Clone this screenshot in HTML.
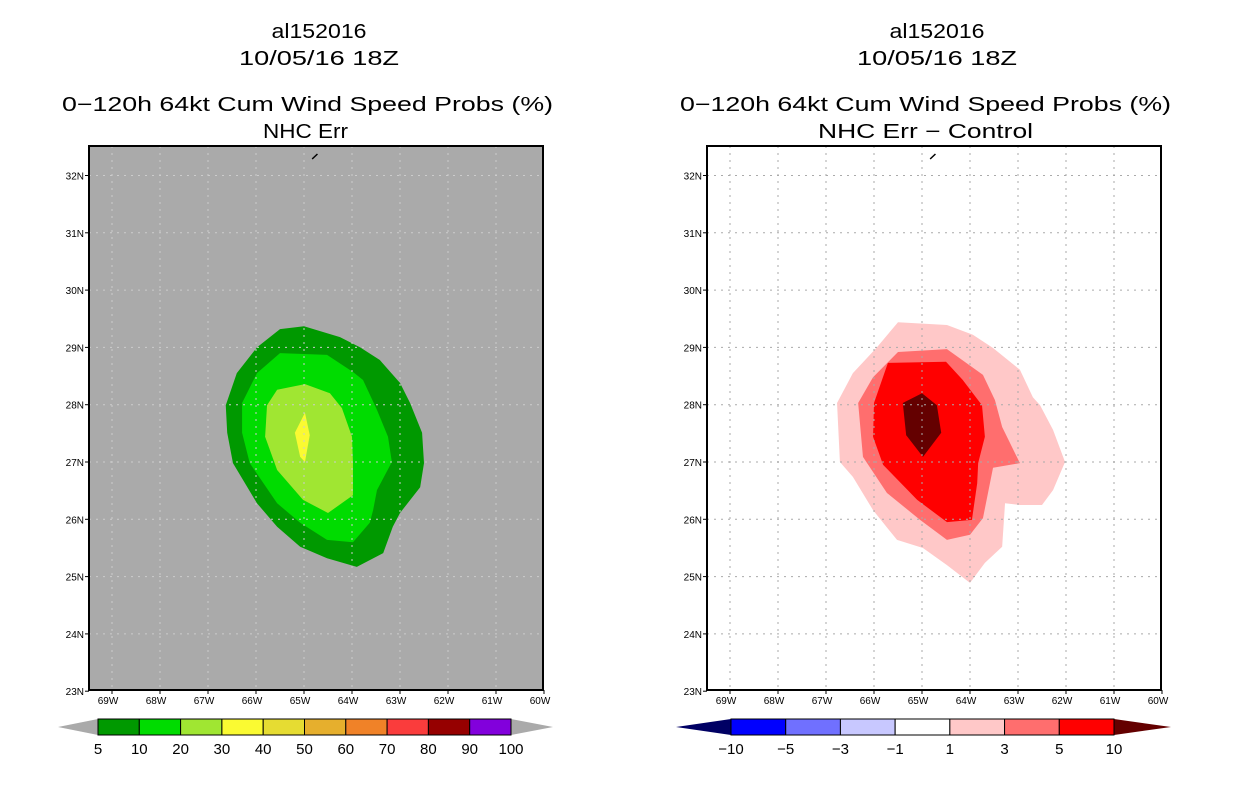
<!DOCTYPE html>
<html><head><meta charset="utf-8"><style>
body{margin:0;background:#fff;}
svg text{font-family:"Liberation Sans",sans-serif;fill:#000;}
</style></head><body>
<svg id="svg" width="1236" height="800" viewBox="0 0 1236 800" xmlns="http://www.w3.org/2000/svg">
<g id="root"></g>
</svg>
<script>
// ---- data ----
const lonTicks = [-69,-68,-67,-66,-65,-64,-63,-62,-61,-60];
const latTicks = [23,24,25,26,27,28,29,30,31,32];
const lonTickLabels = ["69W","68W","67W","66W","65W","64W","63W","62W","61W","60W"];
const latTickLabels = ["23N","24N","25N","26N","27N","28N","29N","30N","31N","32N"];
const leftLevels = ["5","10","20","30","40","50","60","70","80","90","100"];
const leftColors = ["#009900","#00dc00","#a0e632","#fafa32","#e6dc32","#e6af2d","#f08228","#fa3c3c","#960000","#8200dc"];
const rightLevels = ["-10","-5","-3","-1","1","3","5","10"];
const rightColors = ["#0000ff","#7070ff","#c8c8ff","#ffffff","#ffc8c8","#ff6e6e","#ff0000"];
// contour polygons (lon, lat)
const probC5 = [[-65.5,29.32],[-65.0,29.37],[-64.25,29.18],[-63.83,29.0],[-63.42,28.78],[-63.0,28.38],[-62.79,28.03],[-62.54,27.51],[-62.5,26.98],[-62.58,26.56],[-63.0,26.11],[-63.15,25.87],[-63.35,25.41],[-63.9,25.17],[-64.52,25.32],[-65.08,25.52],[-65.56,25.87],[-65.98,26.28],[-66.48,26.98],[-66.6,27.51],[-66.63,27.99],[-66.4,28.55],[-65.98,29.0]];
const probC10 = [[-65.5,28.9],[-64.52,28.87],[-63.98,28.57],[-63.77,28.43],[-63.48,27.91],[-63.25,27.44],[-63.17,27.0],[-63.48,26.51],[-63.56,26.16],[-63.63,25.94],[-63.98,25.6],[-64.52,25.64],[-65.08,25.94],[-65.56,26.28],[-66.13,26.98],[-66.29,27.51],[-66.29,28.03],[-65.98,28.55]];
const probC20 = [[-65.56,28.26],[-64.98,28.36],[-64.46,28.2],[-64.21,27.94],[-64.0,27.44],[-63.98,27.0],[-63.98,26.42],[-64.5,26.11],[-65.02,26.34],[-65.56,26.86],[-65.81,27.44],[-65.77,27.99]];
const probC30 = [[-64.98,27.86],[-64.88,27.47],[-64.98,27.0],[-65.08,27.09],[-65.19,27.51]];
const diffC1 = [[-65.5,29.44],[-64.48,29.39],[-63.94,29.22],[-63.52,28.99],[-62.96,28.61],[-62.69,28.13],[-62.54,27.99],[-62.27,27.56],[-62.02,27.0],[-62.27,26.51],[-62.5,26.25],[-62.96,26.25],[-63.27,26.28],[-63.33,25.52],[-63.69,25.24],[-64.0,24.89],[-64.48,25.2],[-64.98,25.5],[-65.52,25.64],[-66.02,26.16],[-66.44,26.74],[-66.71,27.0],[-66.77,28.03],[-66.44,28.55],[-65.94,29.0]];
const diffC3 = [[-65.5,28.92],[-64.48,28.97],[-63.73,28.52],[-63.48,28.08],[-63.33,27.61],[-62.96,26.98],[-63.52,26.9],[-63.73,26.02],[-64.0,25.73],[-64.48,25.64],[-65.04,25.99],[-65.73,26.46],[-66.23,27.09],[-66.33,28.03],[-66.02,28.48]];
const diffC5 = [[-65.71,28.73],[-64.5,28.75],[-64.15,28.43],[-63.75,27.99],[-63.69,27.44],[-63.83,26.98],[-63.85,26.63],[-63.96,25.99],[-64.48,25.95],[-65.1,26.34],[-65.81,26.95],[-66.02,27.44],[-66.0,28.03]];
const diffC10 = [[-65.0,28.2],[-64.69,27.99],[-64.6,27.51],[-64.98,27.09],[-65.33,27.47],[-65.4,28.03]];

const NS="http://www.w3.org/2000/svg";
const root=document.getElementById('root');
function mk(tag,attrs,parent){const e=document.createElementNS(NS,tag);for(const k in attrs)e.setAttribute(k,attrs[k]);(parent||root).appendChild(e);return e;}
const DX=48, DY=57.3;
function makeAxes(off){
  return {x:lon=>304+off+(lon+65)*DX, y:lat=>462-(lat-27)*DY};
}
function txt(s,x,y,size,anchor,len,name,parent){
  const a={x:x,y:y,'font-size':size,'text-anchor':anchor||'middle'};
  if(len){a.textLength=len;a.lengthAdjust='spacingAndGlyphs';}
  const t=mk('text',a,parent);t.textContent=s;
  
  
  return t;
}
function poly(pts,ax,fill,name,g){
  const p=mk('polygon',{points:pts.map(q=>ax.x(q[0])+','+ax.y(q[1])).join(' '),fill:fill},g);
  
  
}
function panel(off,bg,grid,polys,sub,subLen,subX,side){
  const g=mk('g',{});
  
  
  const ax=makeAxes(off);
  const L=89+off,R=543+off,T=146,B=690;
  const cx=(L+R)/2+3;
  txt('al152016',cx,38,20,'middle',95,side+'-storm-id',g);
  txt('10/05/16 18Z',cx,65,20,'middle',160,side+'-date',g);
  txt('0\u2212120h 64kt Cum Wind Speed Probs (%)',62+off+245.5,111,20,'middle',491,side+'-title',g);
  txt(sub,subX,138,20,'middle',subLen,side+'-subtitle',g);
  const bgr=mk('rect',{x:L,y:T,width:R-L,height:B-T,fill:bg},g);
  
  
  polys.forEach(p=>poly(p[0],ax,p[1],side+'-contour-'+p[2],g));
  lonTicks.forEach((lon,i)=>{
    const x=ax.x(lon);
    if(x>L+1&&x<R-1){const l=mk('line',{x1:x,y1:T,x2:x,y2:B,stroke:grid,'stroke-width':1,'stroke-dasharray':'2,5'},g);
    
    }
    mk('line',{x1:x,y1:B,x2:x,y2:B+4,stroke:'#000'},g);
    txt(lonTickLabels[i],x-4,704,10,'middle',null,'lon-tick-label',g);
  });
  latTicks.forEach((lat,i)=>{
    const y=ax.y(lat);
    if(y>T+1&&y<B-1){const l=mk('line',{x1:L,y1:y,x2:R,y2:y,stroke:grid,'stroke-width':1,'stroke-dasharray':'2,5'},g);
    
    }
    mk('line',{x1:L-4,y1:y,x2:L,y2:y,stroke:'#000'},g);
    txt(latTickLabels[i],L-5,y+4,10,'end',null,'lat-tick-label',g);
  });
  const fr=mk('rect',{x:L,y:T,width:R-L,height:B-T,fill:'none',stroke:'#000','stroke-width':2},g);
  
  
  const mkr=mk('line',{x1:ax.x(-64.83),y1:159,x2:ax.x(-64.72),y2:154,stroke:'#000','stroke-width':1.5},g);
  
  
}
panel(0,'#aaaaaa','#cccccc',[[probC5,leftColors[0],'5'],[probC10,leftColors[1],'10'],[probC20,leftColors[2],'20'],[probC30,leftColors[3],'30']],'NHC Err',85,305.5,'left');
panel(618,'#ffffff','#aaaaaa',[[diffC1,rightColors[4],'1'],[diffC3,rightColors[5],'3'],[diffC5,rightColors[6],'5'],[diffC10,'#640000','10']],'NHC Err \u2212 Control',215,925.5,'right');

function colorbar(x0,x1,tipL,tipR,colors,levels,cL,cR,side){
  const g=mk('g',{});
  
  
  const y0=719,y1=735,ym=727;
  const w=(x1-x0)/colors.length;
  const a=mk('polygon',{points:`${tipL},${ym} ${x0},${y0} ${x0},${y1}`,fill:cL},g);
  
  
  const b=mk('polygon',{points:`${tipR},${ym} ${x1},${y0} ${x1},${y1}`,fill:cR},g);
  
  
  colors.forEach((c,i)=>{
    const r=mk('rect',{x:x0+i*w,y:y0,width:w,height:y1-y0,fill:c,stroke:'#000','stroke-width':1},g);
    
    
  });
  levels.forEach((s,i)=>txt(s.replace('-','\u2212'),x0+i*w,754,15,'middle',null,'colorbar-label',g));
}
colorbar(98,511,58,553,leftColors,leftLevels,'#aaaaaa','#aaaaaa','left');
colorbar(731,1114,676,1171,rightColors,rightLevels,'#000064','#640000','right');
</script>
</body></html>
